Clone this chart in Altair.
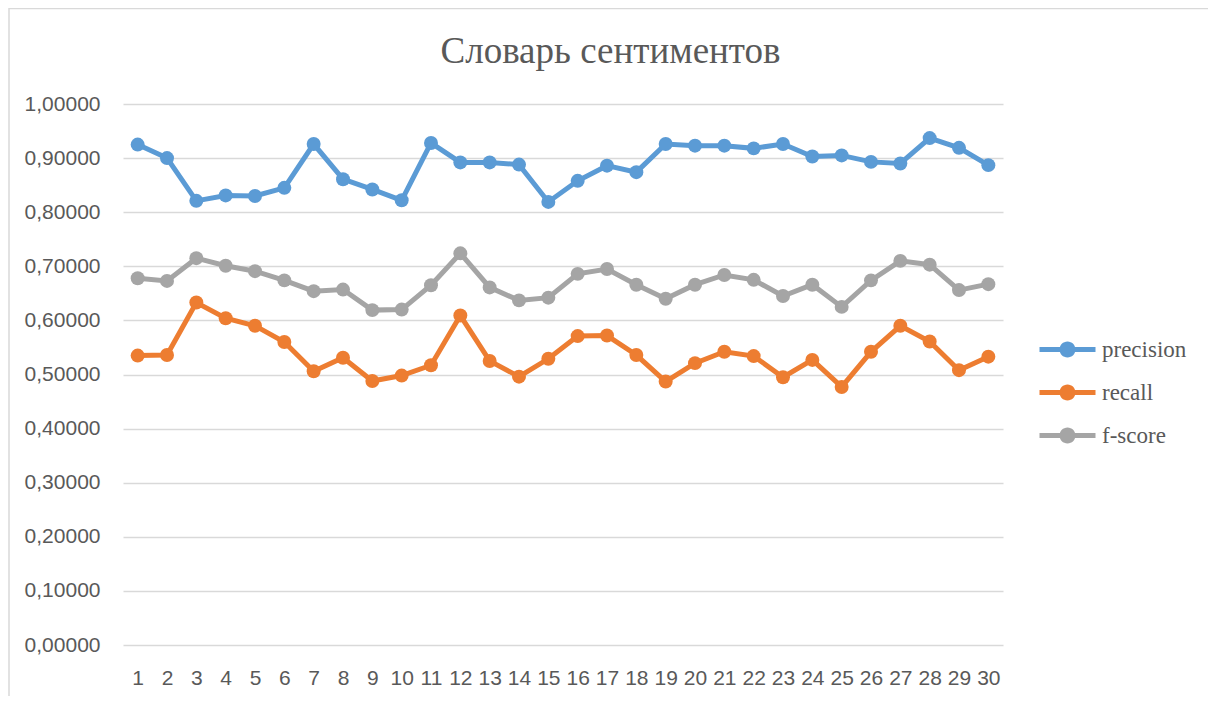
import altair as alt
import pandas as pd

# ---- data ----
runs = list(range(1, 31))
series_names = ["precision", "recall", "f-score"]
precision = [0.925, 0.900, 0.821, 0.831, 0.830, 0.845, 0.926, 0.861, 0.842, 0.822,
             0.928, 0.892, 0.892, 0.888, 0.819, 0.858, 0.886, 0.874, 0.926, 0.923,
             0.923, 0.918, 0.926, 0.903, 0.905, 0.893, 0.890, 0.937, 0.919, 0.887]
recall = [0.535, 0.536, 0.633, 0.604, 0.590, 0.560, 0.506, 0.531, 0.488, 0.498,
          0.517, 0.609, 0.525, 0.496, 0.529, 0.571, 0.572, 0.536, 0.487, 0.521,
          0.542, 0.534, 0.495, 0.527, 0.477, 0.542, 0.590, 0.561, 0.508, 0.533]
fscore = [0.678, 0.673, 0.715, 0.701, 0.691, 0.674, 0.654, 0.657, 0.619, 0.620,
          0.665, 0.724, 0.661, 0.637, 0.642, 0.686, 0.695, 0.666, 0.640, 0.666,
          0.684, 0.675, 0.645, 0.666, 0.625, 0.674, 0.710, 0.703, 0.656, 0.667]
y_ticks = [0.0, 0.1, 0.2, 0.3, 0.4, 0.5, 0.6, 0.7, 0.8, 0.9, 1.0]
title_text = "Словарь сентиментов"
colors = ["#5B9BD5", "#ED7D31", "#A5A5A5"]

rows = []
for name, vals in zip(series_names, [precision, recall, fscore]):
    for r, v in zip(runs, vals):
        rows.append({"run": r, "value": v, "series": name})
df = pd.DataFrame(rows)

W, H = 880, 541
LABEL_FONT = "Liberation Sans"
SERIF = "Liberation Serif"
GRAY_TXT = "#595959"

x_enc = alt.X("run:O", sort=runs,
              scale=alt.Scale(type="point", padding=0.5),
              axis=alt.Axis(title=None, labelAngle=0, ticks=False, domain=False,
                            grid=False, labelFont=LABEL_FONT, labelFontSize=21,
                            labelColor=GRAY_TXT, labelPadding=22))
y_enc = alt.Y("value:Q", scale=alt.Scale(domain=[0, 1], nice=False),
              axis=alt.Axis(title=None, values=y_ticks, ticks=False, domain=False,
                            grid=True, gridColor="#D9D9D9", gridWidth=1.3,
                            labelFont=LABEL_FONT, labelFontSize=21,
                            labelColor=GRAY_TXT, labelPadding=23,
                            labelExpr="replace(format(datum.value, '.5f'), '.', ',')"))

legend_symbol = ("M -6 -0.3 L 1 -0.3 L 1 0.3 L -6 0.3 Z "
                 "M -3.5 0 A 1 1 0 1 1 -1.5 0 A 1 1 0 1 1 -3.5 0 Z")

color_scale = alt.Scale(domain=series_names, range=colors)
legend = alt.Legend(title=None, orient="none", legendX=953, legendY=234,
                    symbolType=legend_symbol, symbolSize=256, symbolStrokeWidth=0,
                    labelFont=SERIF, labelFontSize=23, labelColor=GRAY_TXT,
                    labelOffset=3, rowPadding=19, padding=0)

base = alt.Chart(df)
lines = base.mark_line(strokeWidth=5).encode(
    x=x_enc, y=y_enc,
    color=alt.Color("series:N", scale=color_scale, sort=series_names, legend=legend),
    order=alt.Order("run:Q"),
)
points = base.mark_point(filled=True, size=195, opacity=1, strokeWidth=0).encode(
    x=x_enc, y=y_enc,
    color=alt.Color("series:N", scale=color_scale, sort=series_names, legend=legend),
)

border = alt.Chart(pd.DataFrame({"k": [0]})).mark_rect(
    fill=None, stroke="#D9D9D9", strokeWidth=1.5
).encode(x=alt.value(-114), x2=alt.value(1089), y=alt.value(-95.5), y2=alt.value(640))

title = alt.Chart(pd.DataFrame({"t": [title_text]})).mark_text(
    font=SERIF, fontSize=37, color=GRAY_TXT, align="center", baseline="alphabetic"
).encode(text="t:N", x=alt.value(487.5), y=alt.value(-41))

chart = alt.layer(border, lines, points, title).properties(
    width=W, height=H,
    autosize=alt.AutoSizeParams(type="none"),
    padding={"left": 115, "top": 96, "right": 205, "bottom": 51},
).configure(
    background="white",
    view=alt.ViewConfig(strokeWidth=0, stroke="transparent"),
)

chart.save("out.html", embed_options={"renderer": "svg", "actions": False})
